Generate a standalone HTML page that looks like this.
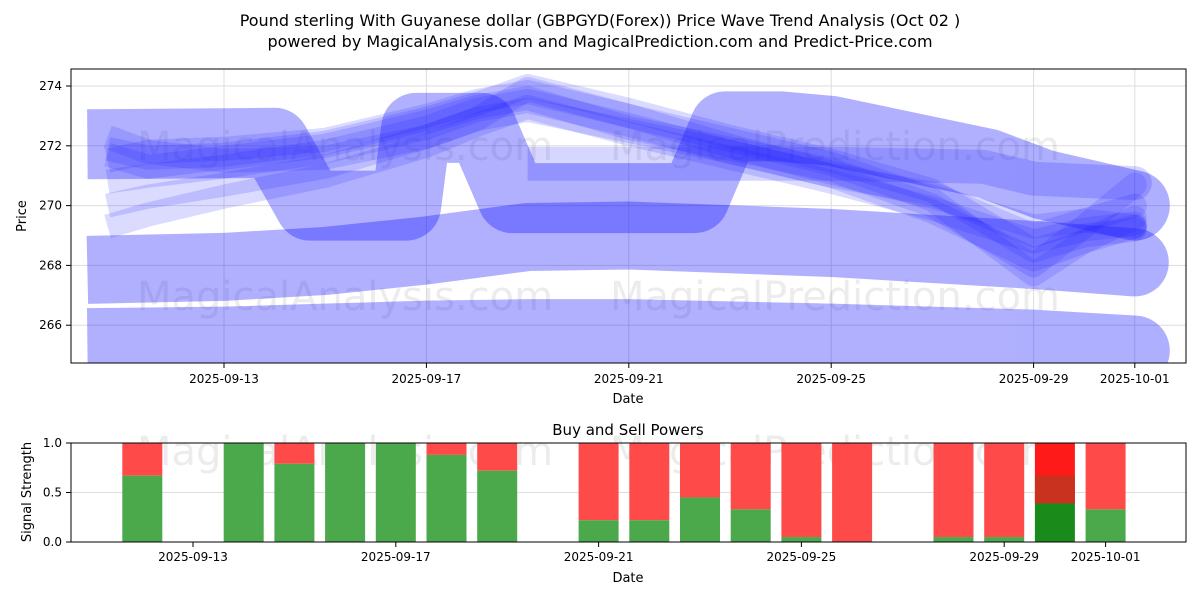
<!DOCTYPE html>
<html><head><meta charset="utf-8"><style>
body{margin:0;background:#fff;font-family:"Liberation Sans","DejaVu Sans",sans-serif}
svg text{font-family:"DejaVu Sans","Liberation Sans",sans-serif}
</style></head><body>
<svg id="c" width="1200" height="600" xmlns="http://www.w3.org/2000/svg">
<text x="600" y="26" text-anchor="middle" font-size="16">Pound sterling With Guyanese dollar (GBPGYD(Forex)) Price Wave Trend Analysis (Oct 02 )</text>
<text x="600" y="47" text-anchor="middle" font-size="16">powered by MagicalAnalysis.com and MagicalPrediction.com and Predict-Price.com</text>
<defs><clipPath id="cp1"><rect x="71" y="69" width="1115" height="294"/></clipPath></defs>
<g id="topg" clip-path="url(#cp1)"></g>
<g id="topAxes"></g>
<g id="bot"></g>
</svg>
<script>
// ---- price wave data (day offsets from 2025-09-13) ----
const bandDays = [
 [-2.7,0,2,4,6,8,12,16,18],
 [-2.7,0,2,4,6,8,12,16,18],
 [-2.7,1.0,1.7,3.6,3.8,5.1,5.7,9.3,9.9,11,12,15.1,16.2,18],
 [6,8,12,15,16,18]
];
const bandVals = [
 [265.4,265.45,265.55,265.65,265.7,265.7,265.55,265.35,265.15],
 [267.85,267.95,268.15,268.5,268.95,269.0,268.75,268.35,268.1],
 [272.05,272.1,270.0,270.0,272.6,272.6,270.25,270.25,272.65,272.65,272.5,271.4,270.7,270.0],
 [271.4,271.4,271.4,271.3,270.9,270.75]
];
const bandWidths=[70,68,70,34];
const bandAlpha=[0.31,0.31,0.31,0.16];
const lineDays=[-2.3,-1.5,0,2,4,5,6,8,10,12,14,16,17,18];
const lineVals=[
 [271.7,271.3,271.6,272.0,272.8,273.3,273.6,272.6,271.9,271.2,270.0,268.0,269.3,270.7],
 [271.5,271.8,271.9,272.2,273.0,273.5,273.8,273.0,272.2,271.4,270.2,267.7,268.8,269.6],
 [270.8,271.0,271.3,271.8,272.6,273.2,273.5,272.7,271.8,271.0,269.8,268.2,268.8,269.3],
 [269.3,269.7,270.3,271.0,272.0,272.7,273.3,272.4,271.6,270.8,269.9,268.8,269.2,269.4],
 [270.0,270.3,270.7,271.3,272.3,272.9,273.9,273.0,272.0,271.1,270.3,269.3,269.5,269.3],
 [272.3,271.8,271.5,271.6,272.3,272.9,273.2,272.5,271.8,271.0,270.4,269.0,269.5,270.0],
 [271.9,271.6,271.7,272.1,272.9,273.4,274.0,273.2,272.3,271.5,270.5,268.5,269.0,269.2]
];
const yTicks=[266,268,270,272,274];
const xTickLabels=["2025-09-13","2025-09-17","2025-09-21","2025-09-25","2025-09-29","2025-10-01"];
const xTickDays=[0,4,8,12,16,18];
// ---- buy/sell data ----
const barDays=[-1,1,2,3,4,5,6,8,9,10,11,12,13,15,16,17,18];
const buyVals=[0.67,1,0.79,1,1,0.88,0.72,0.22,0.22,0.45,0.33,0.05,0,0.05,0.05,0.39,0.33];

const NS="http://www.w3.org/2000/svg";
function mk(t,a,p){const e=document.createElementNS(NS,t);for(const k in a)e.setAttribute(k,a[k]);p.appendChild(e);return e;}
const X=d=>224+d*50.6;
const Y=v=>86+(274-v)*29.9;
const topG=document.getElementById('topg'),ta=document.getElementById('topAxes'),bot=document.getElementById('bot');
// grid
yTicks.forEach(v=>{const l=mk('line',{x1:71,x2:1186,y1:Y(v),y2:Y(v),stroke:'#ddd','stroke-width':1},topG);});
xTickDays.forEach(d=>{const l=mk('line',{x1:X(d),x2:X(d),y1:69,y2:363,stroke:'#ddd','stroke-width':1},topG);});
// watermarks
[[345,160],[835,160],[345,310],[835,310]].forEach((p,i)=>{const w=mk('text',{x:p[0],y:p[1],'text-anchor':'middle','font-size':40,fill:'rgba(150,150,150,0.18)'},topG);w.textContent=i%2?'MagicalPrediction.com':'MagicalAnalysis.com';});
bandDays.forEach((ds,i)=>{
 const g=mk('g',{opacity:bandAlpha[i]},topG);
 
 
 const pts=ds.map((d,j)=>X(d)+','+Y(bandVals[i][j])).join(' ');
 mk('polyline',{points:pts,fill:'none',stroke:'#0000ff','stroke-width':bandWidths[i],'stroke-linecap':'butt','stroke-linejoin':'round'},g);
 const last=ds.length-1;
 mk('circle',{cx:X(ds[last]),cy:Y(bandVals[i][last]),r:bandWidths[i]/2,fill:'#0000ff'},g);
});
lineVals.forEach((vs,i)=>{
 const g=mk('g',{opacity:0.16},topG);
 
 
 const pts=lineDays.map((d,j)=>X(d)+','+Y(vs[j])).join(' ');
 mk('polyline',{points:pts,fill:'none',stroke:'#2020ff','stroke-width':24,'stroke-linejoin':'round'},g);
 const last=lineDays.length-1;
 mk('circle',{cx:X(lineDays[last]),cy:Y(vs[last]),r:12,fill:'#2020ff'},g);
});
// top axes
const fr=mk('rect',{x:71,y:69,width:1115,height:294,fill:'none',stroke:'#000','stroke-width':1},ta);
yTicks.forEach(v=>{mk('line',{x1:66,x2:71,y1:Y(v),y2:Y(v),stroke:'#000'},ta);const e=mk('text',{x:62,y:Y(v)+4,'text-anchor':'end','font-size':12},ta);e.textContent=v;});
xTickDays.forEach((d,i)=>{mk('line',{x1:X(d),x2:X(d),y1:363,y2:368,stroke:'#000'},ta);const e=mk('text',{x:X(d),y:383,'text-anchor':'middle','font-size':12},ta);e.textContent=xTickLabels[i];});
let tx=mk('text',{x:628,y:403,'text-anchor':'middle','font-size':13},ta);tx.textContent='Date';
tx=mk('text',{x:26,y:216,'text-anchor':'middle','font-size':13,transform:'rotate(-90 26 216)'},ta);tx.textContent='Price';
// bottom chart
const BX=d=>193+d*50.7, BY=v=>542-v*99;
[['MagicalAnalysis.com',345],['MagicalPrediction.com',835]].forEach(w=>{const e=mk('text',{x:w[1],y:465,'text-anchor':'middle','font-size':40,fill:'rgba(150,150,150,0.18)'},bot);e.textContent=w[0];});
mk('line',{x1:71,x2:1186,y1:BY(0.5),y2:BY(0.5),stroke:'#ddd'},bot);
barDays.forEach((d,i)=>{const b=buyVals[i],x=BX(d)-20,special=d===17;
 const r=mk('rect',{x:x,y:BY(1),width:40,height:BY(b)-BY(1),fill:special?'#ff1a1a':'#ff4a4a'},bot);
 if(special){const m=mk('rect',{x:x,y:BY(0.67),width:40,height:BY(b)-BY(0.67),fill:'#c8321e'},bot);}
 const g=mk('rect',{x:x,y:BY(b),width:40,height:BY(0)-BY(b),fill:special?'#1a8a1a':'#4ba84b'},bot);});
const bf=mk('rect',{x:71,y:443,width:1115,height:99,fill:'none',stroke:'#000'},bot);
[0,0.5,1].forEach(v=>{mk('line',{x1:66,x2:71,y1:BY(v),y2:BY(v),stroke:'#000'},bot);const e=mk('text',{x:62,y:BY(v)+4,'text-anchor':'end','font-size':12},bot);e.textContent=v.toFixed(1);});
xTickDays.forEach((d,i)=>{mk('line',{x1:BX(d),x2:BX(d),y1:542,y2:547,stroke:'#000'},bot);const e=mk('text',{x:BX(d),y:561,'text-anchor':'middle','font-size':12},bot);e.textContent=xTickLabels[i];});
tx=mk('text',{x:628,y:582,'text-anchor':'middle','font-size':13},bot);tx.textContent='Date';
tx=mk('text',{x:628,y:435,'text-anchor':'middle','font-size':15},bot);tx.textContent='Buy and Sell Powers';
tx=mk('text',{x:31,y:492,'text-anchor':'middle','font-size':13,transform:'rotate(-90 31 492)'},bot);tx.textContent='Signal Strength';
</script>
</body></html>
